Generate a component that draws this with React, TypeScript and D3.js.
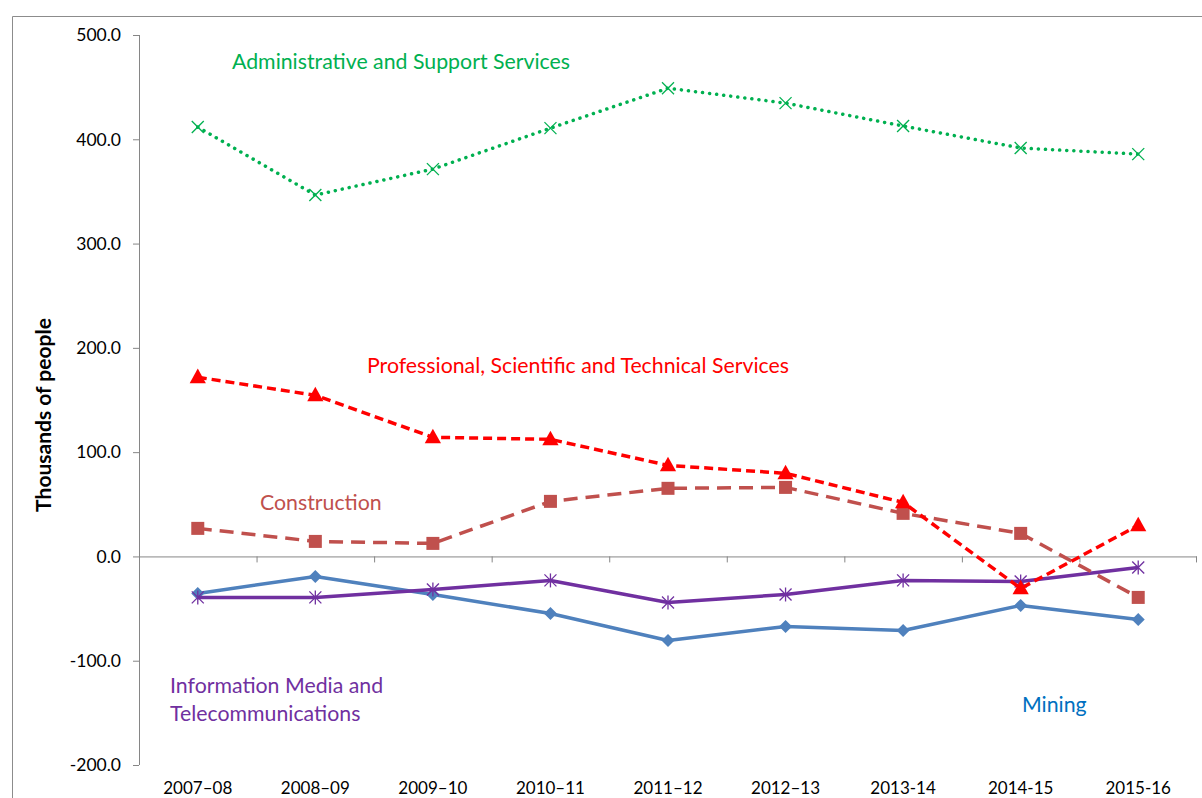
import React from "react";
import * as d3 from "d3";

const categories = ["2007–08", "2008–09", "2009–10", "2010–11", "2011–12", "2012–13", "2013-14", "2014-15", "2015-16"];
const adminSupport = [411.7, 346.5, 371.4, 410.7, 449.0, 434.7, 412.7, 391.6, 385.8];
const professional = [171.8, 154.5, 114.2, 112.3, 87.3, 79.7, 51.8, -30.7, 29.8];
const construction = [26.9, 14.4, 12.5, 52.8, 65.3, 66.2, 41.3, 22.1, -39.3];
const infoMedia = [-39.3, -39.3, -31.7, -23.0, -44.1, -36.5, -23.0, -24.0, -10.6];
const mining = [-35.5, -19.2, -36.5, -54.7, -80.6, -67.2, -71.0, -47.0, -60.5];
const yTicks = [500, 400, 300, 200, 100, 0, -100, -200];

const W = 1202, H = 798;
const FONT = "Lato, 'Noto Sans', sans-serif";

export default function App() {
  const x0 = 139, x1 = 1197;
  const y = d3.scaleLinear().domain([-200, 500]).range([765, 35]);
  const band = d3.scaleBand<string>().domain(categories).range([x0, x1]);
  const cx = (i: number) => (band(categories[i]) as number) + band.bandwidth() / 2;
  const line = d3.line<number>().x((_, i) => cx(i)).y((v) => y(v));
  const axisColor = "#868686";

  const tri = (px: number, py: number, s: number) =>
    `M${px},${py - s * 0.62}L${px + s * 0.58},${py + s * 0.42}L${px - s * 0.58},${py + s * 0.42}Z`;

  const LS = 21.3;

  return (
    <svg width={W} height={H} style={{ position: "absolute", left: 0, top: 0, background: "#fff" }} fontFamily={FONT}>
      {/* outer frame */}
      <path d={`M12.5,${H}V16.5H${W}`} fill="none" stroke="#8c8c8c" strokeWidth={1} />

      {/* y axis */}
      <line x1={x0 + 0.5} x2={x0 + 0.5} y1={y(500)} y2={y(-200)} stroke={axisColor} strokeWidth={1} />
      {yTicks.map((t) => (
        <g key={t}>
          <line x1={x0 - 6} x2={x0} y1={y(t) + 0.5} y2={y(t) + 0.5} stroke={axisColor} />
          <text x={121} y={y(t)} dy="0.36em" textAnchor="end" fontSize={17.5} fill="#000">
            {t.toFixed(1)}
          </text>
        </g>
      ))}
      {/* x axis at zero */}
      <line x1={x0} x2={x1} y1={y(0) + 0.5} y2={y(0) + 0.5} stroke={axisColor} />
      {categories.map((c) => (
        <line key={c} x1={(band(c) as number) + 0.5} x2={(band(c) as number) + 0.5} y1={y(0)} y2={y(0) + 6} stroke={axisColor} />
      ))}
      <line x1={x1 - 0.5} x2={x1 - 0.5} y1={y(0)} y2={y(0) + 6} stroke={axisColor} />
      {categories.map((c, i) => (
        <text key={c} x={cx(i)} y={794} textAnchor="middle" fontSize={17} fill="#000">
          {c}
        </text>
      ))}

      <text transform={`translate(51,415) rotate(-90)`} textAnchor="middle" fontSize={21} fontWeight="bold" fill="#000">
        Thousands of people
      </text>

      {/* Mining */}
      <path d={line(mining) || ""} fill="none" stroke="#4F81BD" strokeWidth={3.5} strokeLinejoin="round" />
      {mining.map((v, i) => (
        <path key={i} d={`M${cx(i)},${y(v) - 6.5}L${cx(i) + 6.5},${y(v)}L${cx(i)},${y(v) + 6.5}L${cx(i) - 6.5},${y(v)}Z`} fill="#4F81BD" />
      ))}

      {/* Information media */}
      <path d={line(infoMedia) || ""} fill="none" stroke="#7030A0" strokeWidth={3.5} strokeLinejoin="round" />
      {infoMedia.map((v, i) => (
        <g key={i} stroke="#7030A0" strokeWidth={1.3}>
          <line x1={cx(i) - 6} x2={cx(i) + 6} y1={y(v) - 6} y2={y(v) + 6} />
          <line x1={cx(i) - 6} x2={cx(i) + 6} y1={y(v) + 6} y2={y(v) - 6} />
          <line x1={cx(i)} x2={cx(i)} y1={y(v) - 7} y2={y(v) + 7} />
        </g>
      ))}

      {/* Construction */}
      <path d={line(construction) || ""} fill="none" stroke="#C0504D" strokeWidth={3.5} strokeDasharray="14 8" />
      {construction.map((v, i) => (
        <rect key={i} x={cx(i) - 6.5} y={y(v) - 6.5} width={13} height={13} fill="#C0504D" />
      ))}

      {/* Professional */}
      <path d={line(professional) || ""} fill="none" stroke="#FF0000" strokeWidth={3.5} strokeDasharray="9 5" />
      {professional.map((v, i) => (
        <path key={i} d={tri(cx(i), y(v), 14)} fill="#FF0000" />
      ))}

      {/* Administrative */}
      <path d={line(adminSupport) || ""} fill="none" stroke="#00B050" strokeWidth={3.5} strokeDasharray="0.1 7" strokeLinecap="round" />
      {adminSupport.map((v, i) => (
        <g key={i} stroke="#00B050" strokeWidth={1.3}>
          <line x1={cx(i) - 6} x2={cx(i) + 6} y1={y(v) - 6} y2={y(v) + 6} />
          <line x1={cx(i) - 6} x2={cx(i) + 6} y1={y(v) + 6} y2={y(v) - 6} />
        </g>
      ))}

      {/* labels */}
      <text x={232} y={69} fontSize={LS} fill="#00B050">Administrative and Support Services</text>
      <text x={367} y={373} fontSize={LS} fill="#FF0000">Professional, Scientific and Technical Services</text>
      <text x={260} y={510} fontSize={LS} fill="#C0504D">Construction</text>
      <text x={170} y={693} fontSize={LS} fill="#7030A0">Information Media and</text>
      <text x={170} y={721} fontSize={LS} fill="#7030A0">Telecommunications</text>
      <text x={1022} y={712} fontSize={LS} fill="#0070C0">Mining</text>
    </svg>
  );
}
